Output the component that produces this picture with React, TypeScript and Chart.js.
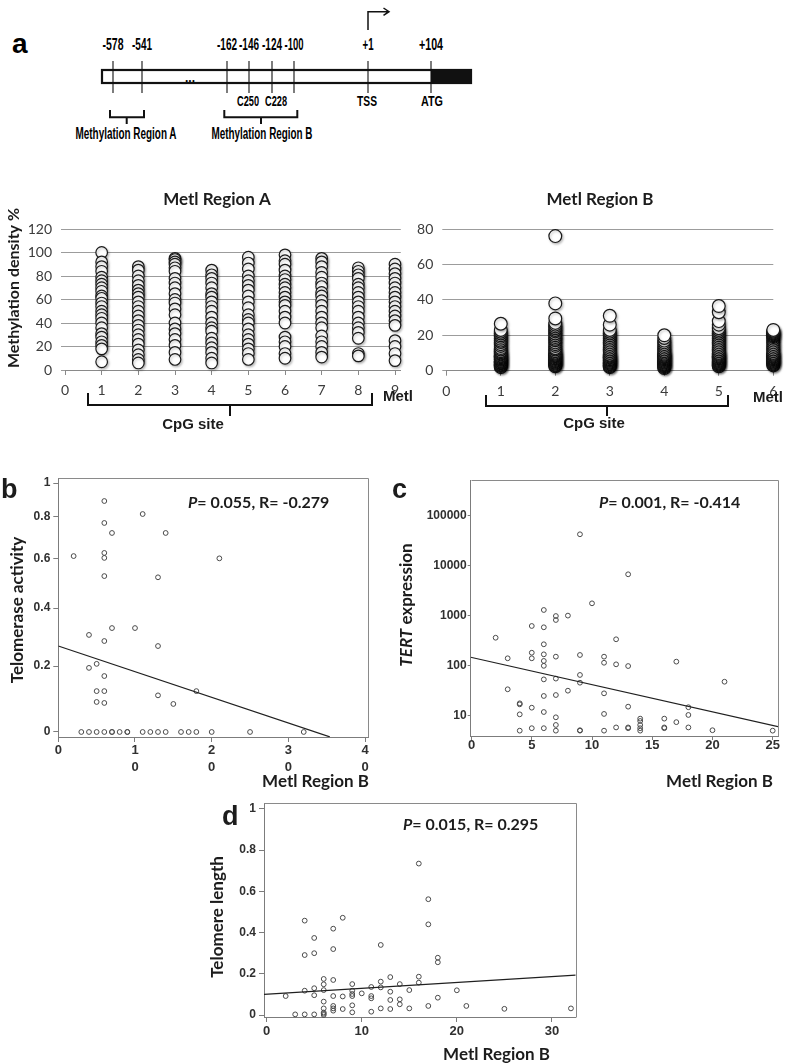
import React, { useEffect, useRef } from "react";
import { Chart, registerables, LinearScale } from "chart.js";

Chart.register(...registerables);

// ---------------- data ----------------
// Panel a: promoter map
const siteLabels = ["-578", "-541", "-162", "-146", "-124", "-100", "+1", "+104"];
const cpgNames = ["C250", "C228"];

// Methylation Region A (CpG sites 1-8, column 9 = Metl)
const regionASites = [1, 2, 3, 4, 5, 6, 7, 8, 9];
const regionA1 = [100, 92, 88, 84, 79, 76, 73, 70, 67, 63, 61, 57, 54, 50, 47, 44, 40, 36, 31, 28, 24, 21, 18, 7];
const regionA2 = [88, 85, 80, 76, 72, 68, 65, 62, 58, 54, 50, 46, 42, 38, 34, 30, 26, 22, 17, 13, 9, 6];
const regionA3 = [95, 94, 92, 90, 87, 84, 78, 74, 70, 65, 60, 57, 52, 47, 40, 35, 31, 26, 21, 15, 9];
const regionA4 = [85, 81, 78, 74, 70, 65, 62, 58, 54, 50, 45, 40, 36, 33, 27, 23, 19, 15, 10, 6];
const regionA5 = [96, 91, 86, 80, 76, 72, 68, 63, 58, 53, 47, 43, 40, 35, 30, 26, 22, 18, 14, 9];
const regionA6 = [98, 93, 90, 85, 80, 77, 73, 70, 66, 62, 58, 55, 50, 45, 40, 28, 24, 20, 14, 10];
const regionA7 = [95, 92, 88, 83, 79, 74, 71, 66, 63, 59, 55, 50, 45, 40, 36, 29, 24, 20, 15, 11];
const regionA8 = [87, 84, 81, 78, 73, 70, 66, 62, 58, 54, 50, 45, 40, 36, 32, 27, 14, 12];
const regionA9 = [90, 86, 82, 78, 74, 70, 66, 62, 58, 54, 50, 46, 42, 38, 25, 20, 14, 8];
const regionATicksX = [0, 1, 2, 3, 4, 5, 6, 7, 8, 9];
const regionATicksY = [0, 20, 40, 60, 80, 100, 120];

// Methylation Region B (CpG sites 1-5, column 6 = Metl)
const regionBSites = [1, 2, 3, 4, 5, 6];
const regionB1 = [2, 2.6, 3.1, 3.5, 4.2, 4.6, 5.1, 5.5, 6.2, 6.6, 7, 7.6, 8.1, 8.5, 9.2, 9.7, 10.4, 11, 12, 12.8, 14, 15, 16.2, 17, 18, 19.1, 20, 21, 22, 23, 26.5];
const regionB2 = [2.5, 3, 3.4, 4, 4.5, 5.1, 5.5, 6, 6.6, 7, 7.5, 8.2, 8.6, 9, 9.6, 10.2, 11, 12, 12.7, 14, 15, 16, 17.2, 18, 19, 20, 21, 22.2, 23, 24, 25, 26, 27, 29.5, 38, 76];
const regionB3 = [2, 2.5, 3, 3.6, 4, 4.5, 5, 5.6, 6, 6.5, 7.1, 7.5, 8, 8.6, 9, 10, 11, 12, 13, 14, 15, 16, 17, 18, 19, 20, 21, 22, 23, 26, 31];
const regionB4 = [1.5, 2, 2.5, 3.1, 3.5, 4, 4.6, 5, 5.5, 6, 6.5, 7, 7.6, 8, 8.5, 9, 9.5, 10.2, 11, 12, 13, 14, 15, 16, 17, 18.5, 20];
const regionB5 = [2.5, 3, 3.5, 4.1, 4.5, 5, 5.5, 6, 6.6, 7, 7.5, 8, 8.5, 9.1, 9.5, 10, 11, 12, 13, 14, 15, 16, 17, 18, 19, 20, 21, 22, 23, 24, 26, 28, 33, 36.5];
const regionB6 = [3, 3.5, 4, 4.5, 5, 5.5, 6, 6.5, 7, 7.5, 8, 8.5, 9, 9.5, 10, 11, 12, 13, 14, 15, 16, 17, 18, 19, 19.5, 20, 20.5, 21, 21.5, 22, 22.5, 23];
const regionBTicksX = [0, 1, 2, 3, 4, 5, 6];
const regionBTicksY = [0, 20, 40, 60, 80];

// Panel b: telomerase activity vs Metl Region B
const bMetl = [6, 11, 6, 7, 14, 2, 6, 6, 21, 6, 13, 4, 7, 10, 6, 13, 5, 4, 6, 5, 6, 18, 13, 5, 6, 15, 3, 4, 5, 6, 7, 7, 8, 9, 9, 11, 12, 13, 14, 16, 17, 18, 20, 25, 32];
const bTelomerase = [0.887, 0.814, 0.767, 0.717, 0.717, 0.61, 0.624, 0.602, 0.6, 0.525, 0.52, 0.304, 0.328, 0.328, 0.283, 0.266, 0.207, 0.194, 0.168, 0.121, 0.121, 0.121, 0.108, 0.088, 0.085, 0.082, 0, 0, 0, 0, 0, 0, 0, 0, 0, 0, 0, 0, 0, 0, 0, 0, 0, 0, 0];
const bFitX = [0, 35.4];
const bFitY = [0.266, -0.014];
const bTicksX = [0, 10, 20, 30, 40];
const bTicksY = [0, 0.2, 0.4, 0.6, 0.8, 1];
const bStats = ["0.055", "-0.279"];

// Panel c: TERT expression vs Metl Region B
const cMetl = [9, 13, 10, 6, 7, 8, 7, 5, 6, 2, 12, 6, 5, 6, 9, 11, 3, 5, 7, 6, 17, 11, 12, 6, 13, 9, 6, 7, 21, 9, 3, 8, 11, 6, 7, 4, 4, 5, 13, 18, 6, 4, 11, 18, 7, 14, 14, 16, 17, 7, 14, 5, 6, 12, 13, 13, 16, 16, 18, 14, 4, 7, 9, 9, 11, 14, 20, 25];
const cTert = [42300, 6700, 1760, 1295, 980, 1000, 817, 620, 584, 361, 336, 267, 181, 168, 163, 151, 140, 140, 151, 124, 120, 114, 106, 99, 98, 65, 53, 55, 47.6, 45.5, 33.6, 31.5, 27.9, 24.7, 25.8, 17.6, 16.8, 14.4, 15.1, 14.7, 11.8, 10.6, 10.8, 10.3, 9.25, 8.7, 7.8, 8.7, 7.4, 6.5, 6.5, 5.6, 5.6, 5.8, 5.8, 5.6, 5.8, 5.6, 5.8, 5.6, 5.0, 5.0, 5.0, 5.1, 5.0, 5.0, 5.1, 5.0];
const cFitX = [-0.07, 25.44];
const cFitY = [147, 6.0];
const cTicksX = [0, 5, 10, 15, 20, 25];
const cTicksY = [10, 100, 1000, 10000, 100000];
const cStats = ["0.001", "-0.414"];

// Panel d: telomere length vs Metl Region B
const dMetl = [16, 17, 17, 4, 8, 5, 7, 4, 5, 7, 12, 18, 18, 2, 4, 5, 5, 6, 6, 6, 6, 6, 6, 6, 6, 7, 7, 7, 7, 7, 8, 8, 9, 9, 9, 9, 9, 9, 10, 11, 11, 11, 11, 12, 12, 12, 13, 13, 13, 13, 14, 14, 14, 15, 15, 16, 16, 17, 18, 20, 21, 25, 32, 3, 4, 5];
const dTelomere = [0.735, 0.562, 0.44, 0.458, 0.472, 0.374, 0.419, 0.291, 0.3, 0.32, 0.34, 0.278, 0.256, 0.092, 0.118, 0.13, 0.096, 0.175, 0.149, 0.121, 0.065, 0.032, 0.012, 0.006, 0.0, 0.17, 0.092, 0.044, 0.032, 0.021, 0.09, 0.029, 0.15, 0.118, 0.102, 0.092, 0.047, 0.013, 0.105, 0.136, 0.092, 0.081, 0.016, 0.162, 0.134, 0.032, 0.184, 0.113, 0.073, 0.029, 0.15, 0.076, 0.052, 0.121, 0.032, 0.186, 0.157, 0.044, 0.084, 0.12, 0.044, 0.03, 0.032, 0.003, 0.003, 0.003];
const dFitX = [-0.28, 32.5];
const dFitY = [0.1, 0.194];
const dTicksX = [0, 10, 20, 30];
const dTicksY = [0, 0.2, 0.4, 0.6, 0.8, 1];
const dStats = ["0.015", "0.295"];

// ---------------- styling ----------------
const UI = "Lato, 'Open Sans', sans-serif";
const ARIAL = "'Liberation Sans', Arial, sans-serif";
const INK = "#1c1c1c";
const AXIS = "#7c7c7c";

// panel b's value axis is drawn with a gently curved (quadratic) spacing
const WARP_B = 0.2886;
class WarpedLinearScale extends LinearScale {
  static id = "warpedLinear";
  static defaults = LinearScale.defaults;
  warpValue(v: number) {
    return v - WARP_B * v * v;
  }
  getPixelForValue(value: number) {
    if (value === null || value === undefined || Number.isNaN(value)) return NaN;
    const a = this.warpValue(this.min);
    const b = this.warpValue(this.max);
    return this.getPixelForDecimal((this.warpValue(value) - a) / (b - a));
  }
  getValueForPixel(pixel: number) {
    const a = this.warpValue(this.min);
    const b = this.warpValue(this.max);
    const g = a + this.getDecimalForPixel(pixel) * (b - a);
    return (1 - Math.sqrt(Math.max(0, 1 - 4 * WARP_B * g))) / (2 * WARP_B);
  }
}
Chart.register(WarpedLinearScale);

type Area = { W: number; H: number; L: number; R: number; T: number; B: number };
type Run = { t: string; font: string };

const zip = (xs: number[], ys: number[]) => xs.map((x, i) => ({ x, y: ys[i] }));
const tickList = (vals: number[]) => (s: any) => {
  s.ticks = vals.map((v) => ({ value: v }));
};

function drawRuns(
  ctx: CanvasRenderingContext2D,
  runs: Run[],
  x: number,
  y: number,
  align: "left" | "center" | "right" = "center",
  baseline: CanvasTextBaseline = "middle",
  rotate = 0,
  color = INK
) {
  ctx.save();
  ctx.translate(x, y);
  if (rotate) ctx.rotate(rotate);
  ctx.fillStyle = color;
  ctx.textBaseline = baseline;
  ctx.textAlign = "left";
  let total = 0;
  for (const r of runs) {
    ctx.font = r.font;
    total += ctx.measureText(r.t).width;
  }
  let cx = align === "left" ? 0 : align === "center" ? -total / 2 : -total;
  for (const r of runs) {
    ctx.font = r.font;
    ctx.fillText(r.t, cx, 0);
    cx += ctx.measureText(r.t).width;
  }
  ctx.restore();
}

function brace(ctx: CanvasRenderingContext2D, x0: number, x1: number, yTop: number, yBar: number, xMid: number, yTip: number) {
  ctx.save();
  ctx.strokeStyle = "#111";
  ctx.lineWidth = 2;
  ctx.beginPath();
  ctx.moveTo(x0, yTop);
  ctx.lineTo(x0, yBar);
  ctx.lineTo(x1, yBar);
  ctx.lineTo(x1, yTop);
  ctx.moveTo(xMid, yBar);
  ctx.lineTo(xMid, yTip);
  ctx.stroke();
  ctx.restore();
}

function decorPlugin(draw: (ctx: CanvasRenderingContext2D, chart: any) => void) {
  return {
    id: "decor",
    afterDraw(chart: any) {
      const ctx = chart.ctx;
      ctx.save();
      draw(ctx, chart);
      ctx.restore();
    },
  };
}

const shadowPlugin = {
  id: "circleShadow",
  beforeDatasetsDraw(chart: any) {
    const c = chart.ctx;
    c.save();
    c.shadowColor = "rgba(0,0,0,0.25)";
    c.shadowBlur = 2.5;
    c.shadowOffsetX = 1.2;
    c.shadowOffsetY = 1.5;
  },
  afterDatasetsDraw(chart: any) {
    chart.ctx.restore();
  },
};

const framePlugin = {
  id: "frame",
  afterDraw(chart: any) {
    const { ctx, chartArea: a } = chart;
    ctx.save();
    ctx.strokeStyle = "#8a8a8a";
    ctx.lineWidth = 1;
    ctx.beginPath();
    ctx.moveTo(Math.round(a.left) + 0.5, Math.round(a.top) + 0.5);
    ctx.lineTo(Math.round(a.right) + 0.5, Math.round(a.top) + 0.5);
    ctx.lineTo(Math.round(a.right) + 0.5, Math.round(a.bottom) + 0.5);
    ctx.stroke();
    ctx.restore();
  },
};

const baseOptions = (a: Area) => ({
  animation: false,
  responsive: false,
  devicePixelRatio: 1,
  events: [],
  layout: { padding: { left: 0, top: a.T, right: a.W - a.R, bottom: 0 } },
  plugins: { legend: { display: false }, tooltip: { enabled: false }, title: { display: false } },
});

function regionConfig(
  a: Area,
  sites: number[],
  columns: number[][],
  xMax: number,
  yMax: number,
  xTicks: number[],
  yTicks: number[],
  radius: number,
  draw: (ctx: CanvasRenderingContext2D) => void
) {
  return {
    type: "scatter",
    data: {
      datasets: columns.map((col, i) => ({
        data: col.map((v) => ({ x: sites[i], y: v })),
        pointRadius: radius,
        pointBorderWidth: 1.2,
        pointBorderColor: "#1a1a1a",
        pointBackgroundColor: "#ffffff",
        clip: false,
      })),
    },
    options: {
      ...baseOptions(a),
      scales: {
        x: {
          type: "linear",
          min: 0,
          max: xMax,
          bounds: "data",
          afterFit: (s: any) => {
            s.height = a.H - a.B;
          },
          afterBuildTicks: tickList(xTicks),
          grid: { drawOnChartArea: false, drawTicks: true, tickLength: 5, color: "#8a8a8a" },
          border: { display: true, color: "#8a8a8a", width: 1 },
          ticks: { autoSkip: false, maxRotation: 0, padding: 7, color: "#3c3c3c", font: { family: UI, size: 14 } },
        },
        y: {
          type: "linear",
          min: 0,
          max: yMax,
          bounds: "data",
          afterFit: (s: any) => {
            s.width = a.L;
          },
          afterBuildTicks: tickList(yTicks),
          grid: { color: "#9c9c9c", drawTicks: true, tickLength: 4 },
          border: { display: false },
          ticks: { padding: 9, color: "#3c3c3c", font: { family: UI, size: 14 } },
        },
      },
    },
    plugins: [shadowPlugin, decorPlugin(draw)],
  };
}

type PanelOpts = {
  a: Area;
  xMin: number;
  xMax: number;
  xTicks: number[];
  xCallback?: (v: number) => any;
  xTickLen: number;
  xPad: number;
  yType: string;
  yMin: number;
  yMax: number;
  yTicks: number[];
  yTickLen: number;
  yPad: number;
  points: { x: number; y: number }[];
  fit: { x: number; y: number }[];
  draw: (ctx: CanvasRenderingContext2D) => void;
};

function panelConfig(o: PanelOpts) {
  const a = o.a;
  return {
    type: "scatter",
    data: {
      datasets: [
        {
          data: o.fit,
          showLine: true,
          borderColor: "#202020",
          borderWidth: 1.2,
          pointRadius: 0,
          fill: false,
        },
        {
          data: o.points,
          pointRadius: 2.4,
          pointBorderWidth: 1,
          pointBorderColor: "#4a4a4a",
          pointBackgroundColor: "rgba(255,255,255,0)",
          clip: false,
        },
      ],
    },
    options: {
      ...baseOptions(a),
      scales: {
        x: {
          type: "linear",
          min: o.xMin,
          max: o.xMax,
          bounds: "data",
          afterFit: (s: any) => {
            s.height = a.H - a.B;
          },
          afterBuildTicks: tickList(o.xTicks),
          grid: { drawOnChartArea: false, drawTicks: true, tickLength: o.xTickLen, color: AXIS },
          border: { display: true, color: AXIS, width: 1 },
          ticks: {
            autoSkip: false,
            maxRotation: 0,
            padding: o.xPad,
            color: "#303030",
            font: { family: ARIAL, size: 13, weight: "bold", lineHeight: 1.3 },
            callback: o.xCallback || ((v: number) => String(v)),
          },
        },
        y: {
          type: o.yType,
          min: o.yMin,
          max: o.yMax,
          bounds: "data",
          afterFit: (s: any) => {
            s.width = a.L;
          },
          afterBuildTicks: tickList(o.yTicks),
          grid: { drawOnChartArea: false, drawTicks: true, tickLength: o.yTickLen, color: AXIS },
          border: { display: true, color: AXIS, width: 1 },
          ticks: {
            padding: o.yPad,
            color: "#303030",
            font: { family: ARIAL, size: 12, weight: "bold" },
            callback: (v: number) => String(v),
          },
        },
      },
    },
    plugins: [framePlugin, decorPlugin(o.draw)],
  };
}

const statRuns = (p: string, r: string, size: number): Run[] => [
  { t: "P", font: `italic bold ${size}px ${UI}` },
  { t: `= ${p}, R= ${r}`, font: `bold ${size}px ${UI}` },
];

// ---------------- chart areas (canvas-local) ----------------
const areaRA: Area = { W: 420, H: 260, L: 65, R: 400.8, T: 49, B: 190 };
const areaRB: Area = { W: 395, H: 260, L: 41.3, R: 368.3, T: 49, B: 190.7 };
const areaB: Area = { W: 400, H: 360, L: 58.3, R: 368, T: 38, B: 297 };
const areaC: Area = { W: 415, H: 360, L: 85.7, R: 393, T: 40, B: 296 };
const areaD: Area = { W: 400, H: 274, L: 64, R: 375.7, T: 13, B: 227 };

const ROT = -Math.PI / 2;

const configs = {
  ra: () =>
    regionConfig(
      areaRA,
      regionASites,
      [regionA1, regionA2, regionA3, regionA4, regionA5, regionA6, regionA7, regionA8, regionA9],
      9.158,
      120,
      regionATicksX,
      regionATicksY,
      5.8,
      (ctx) => {
        drawRuns(ctx, [{ t: "Metl Region A", font: `bold 17px ${UI}` }], 217, 20);
        drawRuns(ctx, [{ t: "Methylation density %", font: `bold 16px ${UI}` }], 14, 108, "center", "middle", ROT);
        brace(ctx, 88, 372, 213, 225, 230, 236);
        drawRuns(ctx, [{ t: "CpG site", font: `bold 15px ${ARIAL}` }], 193, 245);
        drawRuns(ctx, [{ t: "Metl", font: `bold 15px ${ARIAL}` }], 398, 217);
      }
    ),
  rb: () =>
    regionConfig(
      areaRB,
      regionBSites,
      [regionB1, regionB2, regionB3, regionB4, regionB5, regionB6],
      6,
      80,
      regionBTicksX,
      regionBTicksY,
      6.4,
      (ctx) => {
        drawRuns(ctx, [{ t: "Metl Region B", font: `bold 17px ${UI}` }], 195, 20);
        brace(ctx, 81, 323, 215, 226, 202, 236);
        drawRuns(ctx, [{ t: "CpG site", font: `bold 15px ${ARIAL}` }], 189, 244);
        drawRuns(ctx, [{ t: "Metl", font: `bold 15px ${ARIAL}` }], 363, 218);
      }
    ),
  b: () =>
    panelConfig({
      a: areaB,
      xMin: 0,
      xMax: 40.38,
      xTicks: bTicksX,
      xCallback: (v: number) => (v === 0 ? "0" : String(v).split("")),
      xTickLen: 5,
      xPad: 0,
      yType: "warpedLinear",
      yMin: -0.0143,
      yMax: 1.0347,
      yTicks: bTicksY,
      yTickLen: 5,
      yPad: 3,
      points: zip(bMetl, bTelomerase),
      fit: zip(bFitX, bFitY),
      draw: (ctx) => {
        drawRuns(ctx, [{ t: "b", font: `bold 27px ${ARIAL}` }], 1, 58, "left", "alphabetic");
        drawRuns(ctx, statRuns(bStats[0], bStats[1], 16), 188, 68, "left", "alphabetic");
        drawRuns(ctx, [{ t: "Telomerase activity", font: `bold 17px ${UI}` }], 18, 170, "center", "middle", ROT);
        drawRuns(ctx, [{ t: "Metl Region B", font: `bold 17px ${UI}` }], 369, 342, "right");
      },
    }),
  c: () =>
    panelConfig({
      a: areaC,
      xMin: -0.07,
      xMax: 25.44,
      xTicks: cTicksX,
      xTickLen: 4,
      xPad: -3,
      yType: "logarithmic",
      yMin: 3.91,
      yMax: 515000,
      yTicks: cTicksY,
      yTickLen: 3,
      yPad: 1,
      points: zip(cMetl, cTert),
      fit: zip(cFitX, cFitY),
      draw: (ctx) => {
        drawRuns(ctx, [{ t: "c", font: `bold 27px ${ARIAL}` }], 7, 58, "left", "alphabetic");
        drawRuns(ctx, statRuns(cStats[0], cStats[1], 16), 214, 68, "left", "alphabetic");
        drawRuns(
          ctx,
          [
            { t: "TERT", font: `italic bold 17px ${UI}` },
            { t: " expression", font: `bold 17px ${UI}` },
          ],
          22,
          165,
          "center",
          "middle",
          ROT
        );
        drawRuns(ctx, [{ t: "Metl Region B", font: `bold 17px ${UI}` }], 388, 342, "right");
      },
    }),
  d: () =>
    panelConfig({
      a: areaD,
      xMin: -0.28,
      xMax: 32.5,
      xTicks: dTicksX,
      xTickLen: 5,
      xPad: 1,
      yType: "linear",
      yMin: -0.0097,
      yMax: 1.029,
      yTicks: dTicksY,
      yTickLen: 5,
      yPad: 3,
      points: zip(dMetl, dTelomere),
      fit: zip(dFitX, dFitY),
      draw: (ctx) => {
        drawRuns(ctx, [{ t: "d", font: `bold 27px ${ARIAL}` }], 22, 35, "left", "alphabetic");
        drawRuns(ctx, statRuns(dStats[0], dStats[1], 16), 203, 40, "left", "alphabetic");
        drawRuns(ctx, [{ t: "Telomere length", font: `bold 17px ${UI}` }], 18, 127, "center", "middle", ROT);
        drawRuns(ctx, [{ t: "Metl Region B", font: `bold 17px ${UI}` }], 350, 265, "right");
      },
    }),
};

function ChartCanvas({ left, top, area, build }: { left: number; top: number; area: Area; build: () => any }) {
  const ref = useRef<HTMLCanvasElement>(null);
  useEffect(() => {
    const chart = new Chart(ref.current as HTMLCanvasElement, build());
    return () => chart.destroy();
  }, []);
  return (
    <canvas
      ref={ref}
      width={area.W}
      height={area.H}
      style={{ position: "absolute", left, top, width: area.W, height: area.H }}
    />
  );
}

// ---------------- panel a: promoter schematic ----------------
const siteX = [113, 142, 227, 249, 272, 294, 368, 431];
const siteW = [21, 20, 20, 20, 20, 19, 11, 24];

function PromoterMap() {
  const txt = { fontFamily: ARIAL, fontWeight: 700, fill: "#000" } as const;
  return (
    <svg width={800} height={150} style={{ position: "absolute", left: 0, top: 0 }}>
      <text x={12} y={53} fontFamily={ARIAL} fontWeight={700} fontSize={28} fill="#000">
        a
      </text>
      {siteLabels.map((s, i) => (
        <text key={s} x={siteX[i]} y={50} textAnchor="middle" fontSize={17} textLength={siteW[i]} lengthAdjust="spacingAndGlyphs" {...txt}>
          {s}
        </text>
      ))}
      <rect x={102} y={70} width={369} height={13} fill="#fff" stroke="#111" strokeWidth={2.2} />
      <rect x={431} y={70} width={40} height={13} fill="#111" />
      {siteX.map((x, i) => (
        <line key={i} x1={x} x2={x} y1={61} y2={93} stroke="#111" strokeWidth={1.1} />
      ))}
      <text x={190} y={82} textAnchor="middle" fontSize={12} {...txt}>
        ...
      </text>
      <text x={248} y={106} textAnchor="middle" fontSize={15} textLength={22} lengthAdjust="spacingAndGlyphs" {...txt}>
        {cpgNames[0]}
      </text>
      <text x={276} y={106} textAnchor="middle" fontSize={15} textLength={22} lengthAdjust="spacingAndGlyphs" {...txt}>
        {cpgNames[1]}
      </text>
      <text x={367} y={106} textAnchor="middle" fontSize={15} textLength={20} lengthAdjust="spacingAndGlyphs" {...txt}>
        TSS
      </text>
      <text x={432} y={106} textAnchor="middle" fontSize={15} textLength={22} lengthAdjust="spacingAndGlyphs" {...txt}>
        ATG
      </text>
      <path d="M368 30 V11.7 H388.5 M383.5 8 L389 11.7 L383.5 15.4" fill="none" stroke="#111" strokeWidth={1.5} />
      <path d="M110 110 V117.3 H144 V110 M126.7 117.3 V124" fill="none" stroke="#111" strokeWidth={2} />
      <path d="M224.3 110 V117.3 H297.3 V110 M261 117.3 V124" fill="none" stroke="#111" strokeWidth={2} />
      <text x={126} y={139} textAnchor="middle" fontSize={16} textLength={101} lengthAdjust="spacingAndGlyphs" {...txt}>
        Methylation Region A
      </text>
      <text x={262} y={139} textAnchor="middle" fontSize={16} textLength={101} lengthAdjust="spacingAndGlyphs" {...txt}>
        Methylation Region B
      </text>
    </svg>
  );
}

export default function App() {
  return (
    <div style={{ position: "absolute", left: 0, top: 0, width: 800, height: 1064, background: "#fff", overflow: "hidden" }}>
      <PromoterMap />
      <ChartCanvas left={0} top={180} area={areaRA} build={configs.ra} />
      <ChartCanvas left={405} top={180} area={areaRB} build={configs.rb} />
      <ChartCanvas left={0} top={440} area={areaB} build={configs.b} />
      <ChartCanvas left={385} top={440} area={areaC} build={configs.c} />
      <ChartCanvas left={200} top={790} area={areaD} build={configs.d} />
    </div>
  );
}
